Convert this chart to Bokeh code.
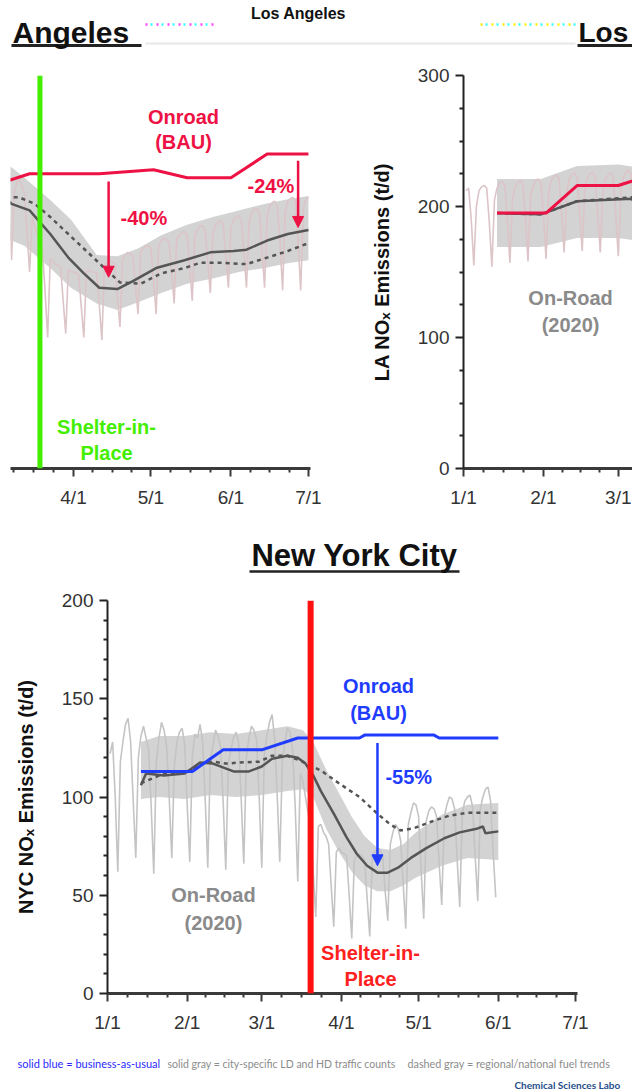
from bokeh.plotting import figure
from bokeh.models import Range1d, FixedTicker, Span, Label, Arrow, NormalHead, ColumnDataSource
from bokeh.layouts import column, row
from bokeh.embed import file_html
from bokeh.resources import INLINE

# ---------------- data ----------------
# x values are day of year 2020 (0 = Jan 1)
month_ticks = [0, 31, 60, 91, 121, 152, 182]
month_labels = ["1/1", "2/1", "3/1", "4/1", "5/1", "6/1", "7/1"]
month_minor = [7.75, 15.5, 23.25, 38.25, 45.5, 52.75, 67.75, 75.5, 83.25, 98.5, 106, 113.5,
               128.75, 136.5, 144.25, 159.5, 167, 174.5]

# ---- Los Angeles ----
la_shelter_day = 78
la_daily_start = 1
la_daily = [
    212, 214, 190, 155,
    200, 212, 215, 216, 214, 188, 154,
    205, 214, 218, 219, 216, 190, 157,
    206, 215, 218, 220, 217, 191, 158,
    208, 216, 220, 221, 218, 192, 160,
    210, 220, 223, 224, 221, 195, 165,
    211, 221, 224, 226, 222, 196, 166,
    212, 222, 225, 226, 223, 195, 165,
    210, 221, 224, 226, 222, 194, 162,
    212, 222, 226, 228, 224, 196, 159,
    210, 218, 220, 216, 210, 180, 150,
    192, 185, 178, 172, 166, 135, 100,
    160, 158, 156, 155, 154, 128, 103,
    152, 150, 150, 149, 148, 124, 100,
    150, 151, 150, 150, 149, 125, 98,
    155, 157, 158, 158, 156, 132, 108,
    160, 163, 165, 164, 162, 140, 118,
    165, 168, 170, 170, 168, 144, 118,
    170, 174, 176, 175, 172, 150, 126,
    175, 178, 180, 181, 178, 154, 128,
    178, 182, 185, 185, 182, 158, 134,
    180, 186, 188, 189, 186, 162, 138,
    184, 190, 192, 193, 190, 165, 138,
    188, 195, 198, 198, 195, 168, 138,
    192, 200, 203, 204, 200, 172, 136,
    196, 204, 206, 207, 204, 174, 136,
    198, 205, 207,
]
la_band_day = [13, 30, 44, 60, 67, 72, 82, 90, 100, 108, 116, 125, 135, 145, 155, 165, 175, 182]
la_band_hi = [221, 221, 231, 232, 230, 222, 205, 190, 163, 162, 168, 178, 186, 192, 197, 202, 206, 208]
la_band_lo = [169, 169, 176, 176, 174, 170, 153, 138, 126, 121, 127, 134, 141, 145, 150, 153, 157, 159]
la_solid_day = [13, 30, 44, 65, 67, 74, 82, 89, 95, 101, 108, 114, 123, 134, 144, 153, 158, 166, 174, 182]
la_solid = [195, 194, 204, 206, 202, 197, 179, 161, 149, 138, 137, 143, 153, 159, 165, 166, 167, 174, 179, 182]
la_dash_day = [13, 30, 44, 65, 70, 76, 82, 89, 96, 103, 109, 117, 125, 134, 140, 148, 158, 166, 174, 182]
la_dash = [195, 194, 204, 207, 207, 202, 192, 179, 166, 153, 142, 141, 149, 153, 157, 157, 156, 161, 166, 172]
la_bau_day = [13, 32, 44, 60, 74, 101, 122, 135, 152, 166, 182]
la_bau = [195, 195, 216, 216, 225, 225, 228, 222, 222, 240, 240]
la_arrow_day = [104.6, 178]
la_arrow_from = [219, 235]
la_arrow_to = [146, 184]

# ---- New York City ----
nyc_shelter_day = 79
nyc_daily_start = 1
nyc_daily = [
    122, 128, 100, 62,
    118, 128, 137, 140, 128, 98, 69,
    120, 131, 136, 130, 124, 95, 61,
    118, 130, 138, 134, 126, 100, 69,
    116, 128, 133, 135, 127, 96, 67,
    121, 132, 130, 137, 128, 99, 64,
    119, 126, 134, 131, 125, 97, 63,
    117, 124, 130, 133, 128, 99, 66,
    120, 130, 136, 134, 129, 100, 64,
    122, 131, 138, 142, 130, 101, 67,
    118, 128, 135, 133, 124, 95, 57,
    112, 108, 100, 92, 85, 62, 39,
    85, 86, 82, 80, 76, 55, 34,
    72, 74, 72, 71, 70, 50, 28,
    68, 70, 71, 70, 68, 48, 29,
    70, 72, 74, 73, 70, 52, 37,
    76, 82, 86, 84, 78, 56, 33,
    86, 92, 97, 96, 90, 62, 38,
    88, 93, 95, 94, 90, 66, 45,
    90, 96, 100, 99, 94, 68, 44,
    92, 98, 100, 101, 95, 70, 47,
    94, 100, 104, 105, 98, 72, 49,
]
nyc_band_day = [13, 20, 30, 40, 50, 60, 70, 76, 80, 85, 90, 95, 100, 105, 110, 115, 120, 130, 140, 152]
nyc_band_hi = [128, 131, 131, 133, 132, 134, 136, 134, 128, 114, 102, 90, 80, 74, 73, 76, 82, 91, 96, 97]
nyc_band_lo = [99, 100, 99, 101, 100, 101, 103, 104, 100, 84, 72, 62, 55, 52, 52, 55, 59, 65, 69, 68]
nyc_solid_day = [13, 15, 22, 30, 36, 41, 49, 55, 60, 64, 70, 74, 77, 80, 83, 88, 93, 97, 101, 105,
                 109, 113, 118, 124, 131, 137, 144, 146, 147, 152]
nyc_solid = [106, 112, 111, 112, 117.5, 117, 113, 113, 115.5, 119.5, 121, 120, 117, 111, 103, 91.5,
             79.5, 71, 65, 61.5, 61.5, 64, 69, 74, 79, 82, 84, 85, 81.5, 82.5]
nyc_dash_day = [13, 22, 30, 36, 41, 46, 51, 59, 64, 70, 75, 83, 90, 98, 105, 110, 114, 119, 127, 133, 140, 152]
nyc_dash = [107, 112, 112, 117, 118, 117, 117.5, 118, 121, 121, 118.5, 113.5, 107, 100, 91.5, 86, 83, 84,
            88, 90.5, 92, 92]
nyc_bau_day = [13, 33, 45, 60, 74, 98, 100, 127, 129, 152]
nyc_bau = [113, 113, 124, 124, 130, 130, 131.5, 131.5, 130, 130]
nyc_arrow_day = [105]
nyc_arrow_from = [127.5]
nyc_arrow_to = [65]

# ---------------- styles ----------------
FONT = "Liberation Sans"
RED = "#ee1144"
BLUE = "#1f3cff"
GREEN = "#44ee00"
GRAY_TXT = "#8a8a8a"
LINE_GRAY = "#555555"
BAND = "#d3d3d3"


def base_fig(**kw):
    p = figure(toolbar_location=None, output_backend="svg", title=None, **kw)
    p.outline_line_color = None
    p.background_fill_color = "white"
    p.border_fill_color = "white"
    p.frame_align = False
    return p


def style_x(p):
    ax = p.xaxis[0]
    ax.ticker = FixedTicker(ticks=month_ticks, minor_ticks=month_minor)
    ax.major_label_overrides = dict(zip(month_ticks, month_labels))
    ax.axis_line_color = "#3a3a3a"
    ax.axis_line_width = 3
    ax.major_tick_line_color = "#3a3a3a"
    ax.major_tick_line_width = 2
    ax.major_tick_out = 8
    ax.major_tick_in = 0
    ax.minor_tick_line_color = "#3a3a3a"
    ax.minor_tick_line_width = 2
    ax.minor_tick_out = 4
    ax.minor_tick_in = 0
    ax.major_label_text_font = FONT
    ax.major_label_text_font_size = "19px"
    ax.major_label_text_color = "#333333"
    ax.major_label_standoff = 10


def style_y(p, ticks, minor, label):
    ax = p.yaxis[0]
    ax.ticker = FixedTicker(ticks=ticks, minor_ticks=minor)
    ax.axis_line_color = "#222222"
    ax.axis_line_width = 2
    ax.major_tick_line_color = "#222222"
    ax.major_tick_line_width = 2
    ax.major_tick_out = 8
    ax.major_tick_in = 0
    ax.minor_tick_line_color = "#222222"
    ax.minor_tick_line_width = 2
    ax.minor_tick_out = 4
    ax.minor_tick_in = 0
    ax.major_label_text_font = FONT
    ax.major_label_text_font_size = "19px"
    ax.major_label_text_color = "#333333"
    ax.major_label_standoff = 6
    ax.axis_label = label
    ax.axis_label_text_font = FONT
    ax.axis_label_text_font_size = "20px"
    ax.axis_label_text_font_style = "bold"
    ax.axis_label_text_color = "#111111"
    ax.axis_label_standoff = 22


def draw_city(p, band_day, lo, hi, dstart, daily, dcolor, dash_day, dash, solid_day, solid,
              bau_day, bau, bau_color):
    p.varea(x=band_day, y1=lo, y2=hi, fill_color=BAND)
    days = list(range(dstart, dstart + len(daily)))
    p.line(days, daily, line_color=dcolor, line_width=1.6)
    p.line(dash_day, dash, line_color=LINE_GRAY, line_width=2.5, line_dash="4 4")
    p.line(solid_day, solid, line_color=LINE_GRAY, line_width=2.5)
    p.line(bau_day, bau, line_color=bau_color, line_width=3)


def lab(p, x, y, text, color, size="20px", align="center", bold=True, font=FONT):
    p.add_layout(Label(x=x, y=y, text=text, text_color=color, text_font=font,
                       text_font_size=size, text_font_style="bold" if bold else "normal",
                       text_align=align, text_baseline="middle"))


def arrows(p, xs, y0, y1, color):
    src = ColumnDataSource(dict(x=xs, y0=y0, y1=y1))
    p.add_layout(Arrow(end=NormalHead(size=11, fill_color=color, line_color=color),
                       x_start="x", y_start="y0", x_end="x", y_end="y1", source=src,
                       line_color=color, line_width=2.5))


# text-only strips: x = page pixel, y = pixels from the strip's top
def text_fig(h):
    return base_fig(width=632, height=h, x_range=Range1d(0, 632), y_range=Range1d(0, h),
                    x_axis_type=None, y_axis_type=None, min_border=0)


def tlab(p, x, top, text, color, size, align="left", bold=True, font=FONT):
    lab(p, x, p.height - top, text, color, size=size, align=align, bold=bold, font=font)


def tline(p, x0, x1, top, color, width, dash="solid"):
    y = p.height - top
    p.line([x0, x1], [y, y], line_color=color, line_width=width, line_dash=dash)


# ---------------- header ----------------
header = text_fig(60)
tlab(header, 298, 13, "Los Angeles", "#111111", "16px", align="center")
tlab(header, 12, 32, "Angeles", "#111111", "30px")
tlab(header, 578, 32, "Los", "#111111", "28px")
tline(header, 11, 141, 45, "#222222", 3)
tline(header, 577, 632, 45, "#222222", 3)
tline(header, 145, 575, 43, "#e8e8e8", 2)
tline(header, 145, 215, 24, "#ff44ff", 2.5, "2 9")
tline(header, 150, 215, 24, "#33ffff", 2.5, "2 9")
tline(header, 480, 575, 24, "#ffee00", 2.5, "2 9")
tline(header, 485, 575, 24, "#33ffff", 2.5, "2 9")

# ---------------- LA, right half of the time axis (left panel) ----------------
la_w = base_fig(width=355, height=470, x_range=Range1d(66.6, 182.8), y_range=Range1d(0, 300),
                y_axis_type=None, min_border_left=10, min_border_right=45, min_border_top=15,
                min_border_bottom=62)
la_w.xgrid.visible = False
draw_city(la_w, la_band_day, la_band_lo, la_band_hi, la_daily_start, la_daily, "#dcc4c8",
          la_dash_day, la_dash, la_solid_day, la_solid, la_bau_day, la_bau, RED)
style_x(la_w)
la_w.add_layout(Span(location=la_shelter_day, dimension="height", line_color=GREEN, line_width=5))
arrows(la_w, la_arrow_day, la_arrow_from, la_arrow_to, RED)
lab(la_w, 133.6, 268, "Onroad", RED)
lab(la_w, 133.6, 249, "(BAU)", RED)
lab(la_w, 109.2, 191.6, "-40%", RED, align="left")
lab(la_w, 158.4, 216, "-24%", RED, align="left")
lab(la_w, 103.8, 31.3, "Shelter-in-", GREEN)
lab(la_w, 103.8, 12.2, "Place", GREEN)

# ---------------- LA, start of the time axis (right panel) ----------------
la_e = base_fig(width=277, height=470, x_range=Range1d(0, 65.5), y_range=Range1d(0, 300),
                min_border_left=108, min_border_right=0, min_border_top=15, min_border_bottom=62)
la_e.xgrid.visible = False
la_e.ygrid.visible = False
draw_city(la_e, la_band_day, la_band_lo, la_band_hi, la_daily_start, la_daily, "#dcc4c8",
          la_dash_day, la_dash, la_solid_day, la_solid, la_bau_day, la_bau, RED)
style_x(la_e)
style_y(la_e, [0, 100, 200, 300], [25, 50, 75, 125, 150, 175, 225, 250, 275],
        "LA NO\u2093 Emissions (t/d)")
lab(la_e, 41.5, 129.8, "On-Road", GRAY_TXT)
lab(la_e, 41.5, 109.2, "(2020)", GRAY_TXT)

# ---------------- NYC title ----------------
title_fig = text_fig(52)
tlab(title_fig, 354, 25, "New York City", "#111111", "31px", align="center")
tline(title_fig, 249, 459, 41, "#222222", 2.5)

# ---------------- NYC panel ----------------
nyc = base_fig(width=632, height=463, x_range=Range1d(0, 182.8), y_range=Range1d(0, 200),
               min_border_left=107, min_border_right=55, min_border_top=18, min_border_bottom=52)
nyc.xgrid.visible = False
nyc.ygrid.visible = False
draw_city(nyc, nyc_band_day, nyc_band_lo, nyc_band_hi, nyc_daily_start, nyc_daily, "#c4c4c4",
          nyc_dash_day, nyc_dash, nyc_solid_day, nyc_solid, nyc_bau_day, nyc_bau, BLUE)
style_x(nyc)
style_y(nyc, [0, 50, 100, 150, 200],
        [10, 20, 30, 40, 60, 70, 80, 90, 110, 120, 130, 140, 160, 170, 180, 190],
        "NYC NO\u2093 Emissions (t/d)")
nyc.add_layout(Span(location=nyc_shelter_day, dimension="height", line_color="#ff1010", line_width=6))
arrows(nyc, nyc_arrow_day, nyc_arrow_from, nyc_arrow_to, BLUE)
lab(nyc, 105.4, 156.7, "Onroad", BLUE)
lab(nyc, 105.4, 143, "(BAU)", BLUE)
lab(nyc, 108.1, 110, "-55%", BLUE, align="left")
lab(nyc, 41.2, 49.9, "On-Road", GRAY_TXT)
lab(nyc, 41.2, 36.1, "(2020)", GRAY_TXT)
lab(nyc, 102.3, 20.4, "Shelter-in-", "#ff2020")
lab(nyc, 102.3, 7.6, "Place", "#ff2020")

# ---------------- footer ----------------
footer = text_fig(46)
tlab(footer, 17, 18, "solid blue = business-as-usual", "#2a2aff", "11px", bold=False, font="Lato")
tlab(footer, 167, 18, "solid gray = city-specific LD and HD traffic counts", "#8c8c8c", "10.5px",
     bold=False, font="Lato")
tlab(footer, 407, 18, "dashed gray = regional/national fuel trends", "#8c8c8c", "10.8px",
     bold=False, font="Lato")
tlab(footer, 514, 39, "Chemical Sciences Labo", "#1f4e8c", "10px", font="Lato")

layout = column(header, row(la_w, la_e), title_fig, nyc, footer)

open("out.html", "w").write(file_html(layout, INLINE))
